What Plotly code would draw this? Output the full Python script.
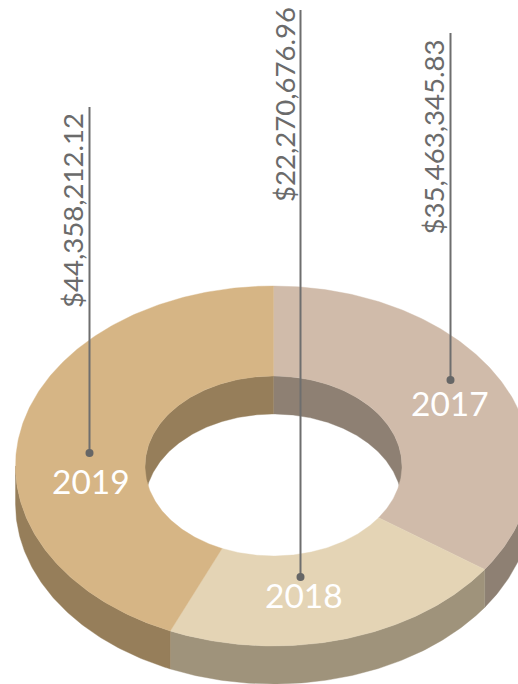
import numpy as np
import plotly.graph_objects as go

years = ["2017", "2018", "2019"]
values = [35463345.83, 22270676.96, 44358212.12]
value_labels = ["$35,463,345.83", "$22,270,676.96", "$44,358,212.12"]
top_colors = ["#D0BBAA", "#E4D4B5", "#D6B585"]
side_colors = ["#8E8073", "#9F937B", "#967E5A"]

W, H = 518, 684
CX, CY, RX, RY, IRX, IRY, DEPTH = 273.5, 466, 258, 180, 128.5, 90, 38
TEXT = "#6B6B6B"
FONT = "Lato"

# leader lines: x, top y, bottom y; label centre x, y; year label x, y
leader_x = [450.5, 300.5, 89.5]
leader_top = [33, 10, 107]
leader_end = [380, 577, 453]
value_text_x = [432.5, 284, 72]
value_text_y = [137, 105, 211]
year_x = [450, 304, 91]
year_y = [403, 595, 481]


def arc(a0, a1, rx, ry, dz=0.0):
    n = max(int(abs(a1 - a0) * 1.5), 2)
    t = np.radians(np.linspace(a0, a1, n))
    return CX + rx * np.sin(t), CY - ry * np.cos(t) + dz


def poly(xa, ya, xb, yb, color):
    x = np.r_[xa, xb[::-1], xa[0]]
    y = np.r_[ya, yb[::-1], ya[0]]
    return go.Scatter(x=x, y=y, mode="lines", fill="toself", fillcolor=color,
                      line=dict(color=color, width=0.4), hoverinfo="skip", showlegend=False)


total = sum(values)
edges = np.r_[0, np.cumsum(values)] / total * 360
fig = go.Figure()

# Inner wall, visible through the hole (back half of the ring)
for i in range(len(values)):
    a0, a1 = max(edges[i], 0), min(edges[i + 1], 90)
    if a1 > a0:
        xa, ya = arc(a0, a1, IRX, IRY)
        xb, yb = arc(a0, a1, IRX, IRY, DEPTH)
        fig.add_trace(poly(xa, ya, xb, yb, side_colors[i]))
    a0, a1 = max(edges[i], 270), min(edges[i + 1], 360)
    if a1 > a0:
        xa, ya = arc(a0, a1, IRX, IRY)
        xb, yb = arc(a0, a1, IRX, IRY, DEPTH)
        fig.add_trace(poly(xa, ya, xb, yb, side_colors[i]))

# Outer wall (front half of the ring)
for i in range(len(values)):
    a0, a1 = max(edges[i], 90), min(edges[i + 1], 270)
    if a1 > a0:
        xa, ya = arc(a0, a1, RX, RY)
        xb, yb = arc(a0, a1, RX, RY, DEPTH)
        fig.add_trace(poly(xa, ya, xb, yb, side_colors[i]))

# Top faces
for i in range(len(values)):
    xa, ya = arc(edges[i], edges[i + 1], RX, RY)
    xb, yb = arc(edges[i], edges[i + 1], IRX, IRY)
    fig.add_trace(poly(xa, ya, xb, yb, top_colors[i]))

# Leader lines
for i in range(len(values)):
    fig.add_trace(go.Scatter(
        x=[leader_x[i], leader_x[i]], y=[leader_top[i], leader_end[i]], mode="lines",
        line=dict(color="#6E6E6E", width=2), hoverinfo="skip", showlegend=False))
    fig.add_trace(go.Scatter(
        x=[leader_x[i]], y=[leader_end[i]], mode="markers",
        marker=dict(color="#666666", size=8, line=dict(width=0)), hoverinfo="skip", showlegend=False))

annotations = []
for i in range(len(values)):
    annotations.append(dict(x=value_text_x[i], y=value_text_y[i], xref="x", yref="y", text=value_labels[i],
                            textangle=-90, showarrow=False, font=dict(family=FONT, size=27.6, color=TEXT)))
    annotations.append(dict(x=year_x[i], y=year_y[i], xref="x", yref="y", text=years[i],
                            showarrow=False, font=dict(family=FONT, size=33.5, color="#FFFFFF")))

fig.update_layout(
    width=W, height=H, margin=dict(l=0, r=0, t=0, b=0),
    paper_bgcolor="white", plot_bgcolor="white", showlegend=False,
    xaxis=dict(range=[0, W], visible=False, fixedrange=True),
    yaxis=dict(range=[H, 0], visible=False, fixedrange=True),
    annotations=annotations,
)
fig.write_html("out.html", config=dict(displayModeBar=False),
               post_script="document.body.style.margin='0';document.body.style.overflow='hidden';")
